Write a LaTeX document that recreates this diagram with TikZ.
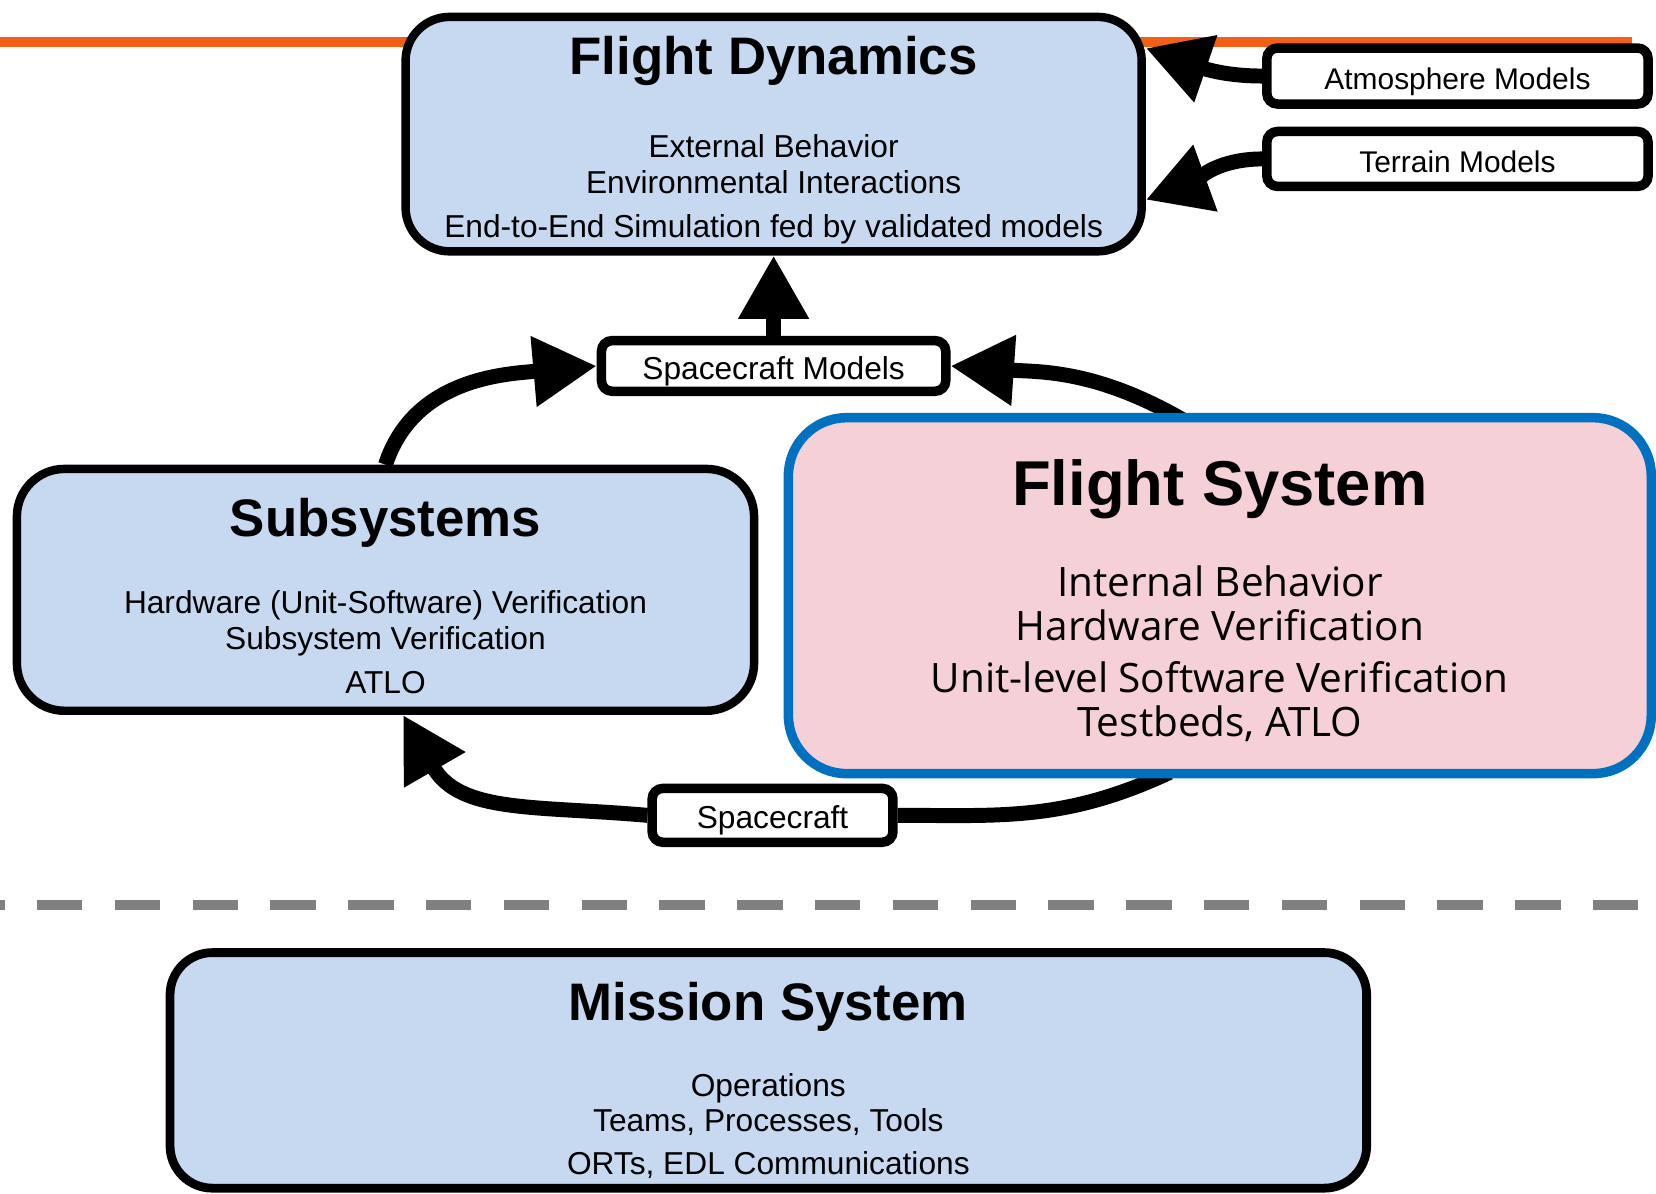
\documentclass[tikz,border=0pt]{standalone}
\usepackage{fontspec}
\setmainfont{Liberation Sans}
\newfontfamily\segoe{Open Sans}
\usetikzlibrary{arrows.meta}

\pgfdeclarelayer{back}
\pgfsetlayers{back,main}

\definecolor{boxblue}{RGB}{198,217,240}
\definecolor{boxpink}{RGB}{245,208,214}
\definecolor{edgeblue}{RGB}{0,112,192}
\definecolor{lineorange}{RGB}{241,96,22}
\definecolor{dashgray}{RGB}{128,128,128}

\tikzset{
  bigbox/.style={draw=black, line width=4.8pt, fill=boxblue, rounded corners=25pt, inner sep=0pt},
  tagbox/.style={draw=black, line width=5.4pt, fill=white, rounded corners=6pt, inner sep=0pt,
    font=\fontsize{17}{20}\selectfont, text height=15pt, text depth=0pt},
  flow/.style={line width=8.5pt, -{Triangle[length=36pt,width=38pt]}},
  headline/.style={font=\bfseries\fontsize{30}{34}\selectfont, anchor=base},
  bodytext/.style={font=\fontsize{18}{20.4}\selectfont, align=center, anchor=base},
}

\begin{document}
\begin{tikzpicture}[x=0.6pt, y=0.6pt]
    \useasboundingbox (0,0) rectangle (1568,-1130);
    \clip (0,0) rectangle (1568,-1130);

    % boxes (body texts are placed by the baseline of their last line)
    \node[bigbox, minimum width=418.2pt, minimum height=133.2pt] (fd) at (732.5,-127) {};
    \node[headline] (fdt) at (732.5,-71) {Flight Dynamics};
    \node[bodytext] (fdb) at (732.5,-225) {External Behavior\\Environmental Interactions\\[4.8pt]End-to-End Simulation fed by validated models};

    \node[tagbox, minimum width=216.6pt, minimum height=31.8pt] (atm) at (1380,-72) {Atmosphere Models};
    \node[tagbox, minimum width=216.6pt, minimum height=31.2pt] (terr) at (1380,-150.5) {Terrain Models};
    \node[tagbox, minimum width=195.6pt, minimum height=28.8pt, font=\fontsize{18}{20}\selectfont] (scm) at (732.5,-346.5) {Spacecraft Models};
    \node[tagbox, minimum width=136.8pt, minimum height=30.6pt, font=\fontsize{18}{20}\selectfont] (sc) at (731.5,-772) {Spacecraft};

    \node[bigbox, rounded corners=27pt, minimum width=418.8pt, minimum height=137.4pt] (sub) at (365,-558.5) {};
    \node[headline] (subt) at (365,-508) {Subsystems};
    \node[bodytext] (subb) at (365,-657) {Hardware (Unit-Software) Verification\\Subsystem Verification\\[4.8pt]ATLO};

    \node[bigbox, draw=edgeblue, fill=boxpink, line width=5.4pt, rounded corners=33pt, minimum width=490.2pt, minimum height=202.2pt] (fs) at (1155,-564) {};
    \node[headline, font=\bfseries\fontsize{36}{40}\selectfont] (fst) at (1155,-479) {Flight System};
    \node[bodytext, font=\segoe\fontsize{23}{25}\selectfont] (fsb) at (1155,-697) {Internal Behavior\\Hardware Verification\\[4.5pt]Unit-level Software Verification\\Testbeds, ATLO};

    \node[bigbox, line width=5pt, rounded corners=24pt, minimum width=679.8pt, minimum height=133.8pt] (ms) at (727.5,-1013.5) {};
    \node[headline] (mst) at (727.5,-966) {Mission System};
    \node[bodytext, font=\fontsize{18}{19.5}\selectfont] (msb) at (727.5,-1112) {Operations\\Teams, Processes, Tools\\[5pt]ORTs, EDL Communications};

    % lines and flows behind the boxes
    \begin{pgfonlayer}{back}
        \draw[lineorange, line width=5.4pt] (0,-40) -- (1545,-40);
        \draw[dashgray, line width=5.7pt, dash pattern=on 25.8pt off 18.4pt] (-38.6,-857) -- (1600,-857);
        \draw[flow] (atm.west) to[out=180, in=-19] (fd.13);
        \draw[flow] (terr.west) to[out=180, in=20] (fd.-10.4);
        \draw[flow] (scm.north) -- (fd.south);
        \draw[flow] (sub.north) to[out=72, in=185] (scm.west);
        \draw[flow, shorten <=-8pt] (fs.105) to[out=150, in=-4] (scm.east);
        \draw[line width=8.5pt, shorten <=-8pt] (fs.251) to[out=205, in=0] (sc.east);
        \draw[flow] (sc.west) to[out=175, in=-60, looseness=1.1] (sub.-82);
    \end{pgfonlayer}
\end{tikzpicture}
\end{document}
